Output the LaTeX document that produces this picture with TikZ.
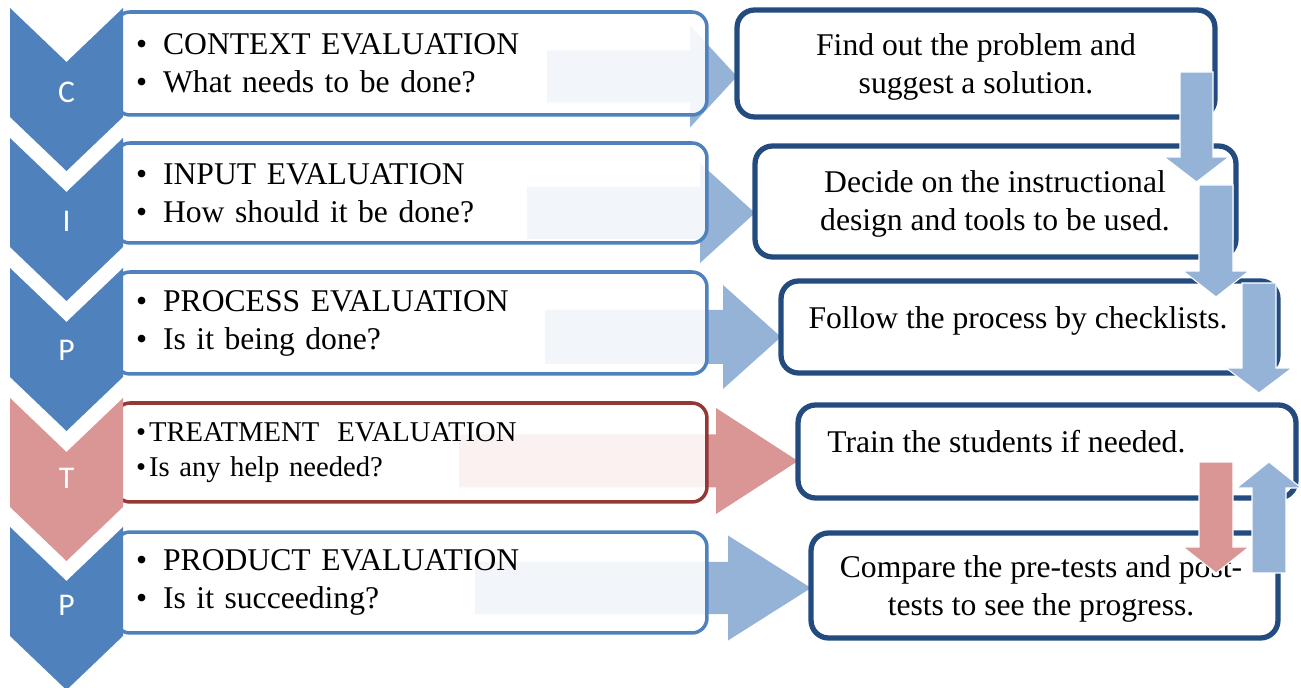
\documentclass[tikz,border=0pt]{standalone}
\usepackage{fontspec}
\setmainfont{Liberation Serif}
\newfontfamily\chevfont{Carlito}
\usetikzlibrary{positioning,calc}

\definecolor{chevblue}{HTML}{4F81BD}
\definecolor{chevpink}{HTML}{D99694}
\definecolor{arrblue}{HTML}{95B3D7}
\definecolor{arrpink}{HTML}{D99694}
\definecolor{treatred}{HTML}{953735}
\definecolor{darkblue}{HTML}{244B80}

% bullet with gap
\newcommand{\itm}{\textbullet\hspace{0.32cm}}
% horizontal block arrow: x0, xbase, xtip, yc, body half, head half
\newcommand{\harrow}[7][arrblue]{%
  \fill[#1] (#2,#5-#6) -- (#3,#5-#6) -- (#3,#5-#7) -- (#4,#5) -- (#3,#5+#7) -- (#3,#5+#6) -- (#2,#5+#6) -- cycle;}
% vertical block arrow: xc, ystart, ybase, ytip, body half, head half
\newcommand{\varrow}[7][arrblue]{%
  \filldraw[fill=#1, draw=white, line width=0.6pt] (#2-#6,#3) -- (#2-#6,#4) -- (#2-#7,#4) -- (#2,#5) -- (#2+#7,#4) -- (#2+#6,#4) -- (#2+#6,#3) -- cycle;}
% chevron: top y, colour
\newcommand{\chevshape}[2]{%
  \fill[#2] (10,#1) -- (66.5,#1+54) -- (123,#1) -- (123,#1+109) -- (66.5,#1+163) -- (10,#1+109) -- cycle;}

\begin{document}
\begin{tikzpicture}[x=0.02cm, y=-0.02cm]
  \tikzstyle{lbox}=[rectangle, rounded corners=0.3cm, draw=chevblue, line width=2pt, fill=white, fill opacity=0.88, text opacity=1, minimum width=11.84cm, text width=11.0cm, inner xsep=0.42cm, align=left, font=\fontsize{18}{21.6}\selectfont]
  \tikzstyle{rbox}=[rectangle, rounded corners=0.35cm, draw=darkblue, line width=3pt, fill=white]
  \tikzstyle{rtext}=[align=center, inner sep=0pt, font=\fontsize{18}{21.6}\selectfont]
  \tikzstyle{letter}=[text=white, inner sep=0pt, font=\chevfont\fontsize{18}{20}\selectfont]

  \useasboundingbox (0,0) rectangle (1301,688);

  % arrows from left to right
  \harrow{547}{690}{737}{76.5}{26}{51}
  \harrow{527}{700}{755}{213}{26}{50}
  \harrow{545}{723}{781}{337}{27}{52}
  \harrow[arrpink]{459}{716}{798}{461}{26.5}{53}
  \harrow{475}{728}{811}{588}{26}{52.5}

  % left boxes
  \node[lbox, minimum height=2.06cm] (l1) at (411,63.5) {\itm CONTEXT EVALUATION\\ \itm What needs to be done?};
  \node[lbox, minimum height=2.0cm] (l2) at (411,193) {\itm INPUT EVALUATION\\ \itm How should it be done?};
  \node[lbox, minimum height=2.04cm] (l3) at (411,323) {\itm PROCESS EVALUATION\\ \itm Is it being done?};
  \node[lbox, draw=treatred, minimum height=1.98cm, font=\fontsize{16.3}{19.5}\selectfont] (l4) at (411,452.5) {\textbullet\hspace{0.06cm}TREATMENT\hspace{0.36cm}EVALUATION\\ \textbullet\hspace{0.06cm}Is any help needed?};
  \node[lbox, minimum height=2.02cm] (l5) at (411,582.5) {\itm PRODUCT EVALUATION\\ \itm Is it succeeding?};

  % chevrons
  \chevshape{8}{chevblue}
  \chevshape{138}{chevblue}
  \chevshape{268}{chevblue}
  \chevshape{398}{chevpink}
  \chevshape{527}{chevblue}
  \node[letter] (c) at (66.5,92) {C};
  \node[letter] (i) at (66.5,221) {I};
  \node[letter] (p) at (66.5,350) {P};
  \node[letter] (t) at (66.5,478) {T};
  \node[letter] (p2) at (66.5,605) {P};

  % right boxes
  \node[rbox, minimum width=9.56cm, minimum height=2.14cm] (r1) at (976,63.5) {};
  \node[rbox, minimum width=9.62cm, minimum height=2.22cm] (r2) at (995.5,201.5) {};
  \node[rbox, minimum width=9.94cm, minimum height=1.84cm] (r3) at (1029.5,327) {};
  \node[rbox, minimum width=9.96cm, minimum height=1.86cm] (r4) at (1047,451.5) {};
  \node[rbox, minimum width=9.34cm, minimum height=2.1cm] (r5) at (1044.5,585.5) {};

  \node[rtext] (r1t) at (976,66.5) {Find out the problem and\\suggest a solution.};
  \node[rtext] (r2t) at (995,203.5) {Decide on the instructional\\design and tools to be used.};
  \node[rtext] (r3t) at (1018,321) {Follow the process by checklists.};
  \node[rtext, anchor=west] (r4t) at (827,442) {Train the students if needed.};
  \node[rtext] (r5t) at (1041,589) {Compare the pre-tests and post-\\tests to see the progress.};

  % arrows between right boxes
  \varrow{1196.5}{72}{157}{182}{16.5}{32.5}
  \varrow{1216}{185}{271}{297}{17}{33}
  \varrow{1259}{283}{368}{393}{17}{33}
  \varrow[arrpink]{1216}{462}{547}{573}{17}{33}
  \varrow{1269}{573}{488}{462}{17}{32.5}
\end{tikzpicture}
\end{document}
